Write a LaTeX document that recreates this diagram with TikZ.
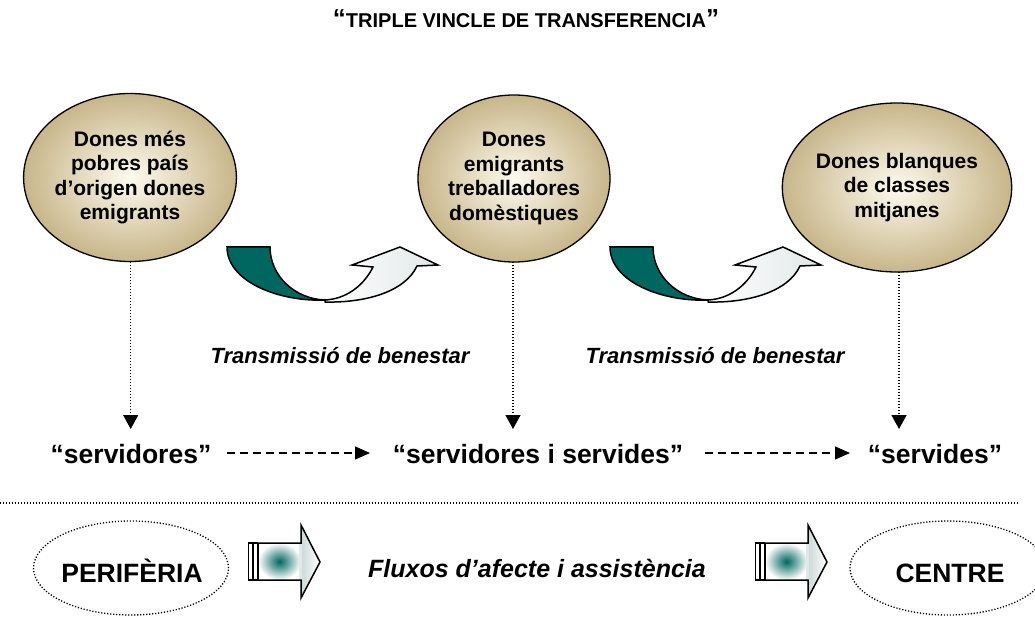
\documentclass[tikz,border=0pt]{standalone}
\usepackage{fontspec}
\setmainfont{Liberation Sans}
\usetikzlibrary{arrows.meta,shapes.geometric}
\definecolor{teal1}{RGB}{0,102,96}
\definecolor{circedge}{RGB}{200,182,138}
\definecolor{circmid}{RGB}{253,250,238}
\definecolor{grayteal}{RGB}{120,150,150}
\definecolor{lightgt}{RGB}{225,232,232}
\tikzset{
  circ/.style={ellipse, draw=black, line width=1.3pt, inner sep=0pt, shading=radial, inner color=circmid, outer color=circedge, align=center, font=\fontsize{21}{24.5}\selectfont\bfseries},
  vdot/.style={line width=1.2pt, dash pattern=on 1.2pt off 1.8pt, -{Triangle[length=14pt,width=15pt]}},
  hdash/.style={line width=1.3pt, dash pattern=on 8pt off 5pt, -{Triangle[length=15pt,width=13pt]}},
  lbl/.style={font=\fontsize{26.5}{30}\selectfont\bfseries, inner sep=0pt, anchor=base},
  itl/.style={font=\fontsize{22}{26}\selectfont\bfseries\itshape, inner sep=0pt, anchor=base},
  oval/.style={ellipse, draw=black, line width=1.3pt, dash pattern=on 1.2pt off 1.8pt, inner sep=0pt},
  outl/.style={draw=black, line width=1.5pt, line join=miter},
}
\begin{document}
\begin{tikzpicture}[x=1pt,y=-1pt]
\useasboundingbox (0,0) rectangle (1035,617);
% title
\node[font=\fontsize{20}{22}\selectfont\bfseries, inner sep=0pt, anchor=base] (title) at (526,28) {{\fontsize{26}{26}\selectfont “}TRIPLE VINCLE DE TRANSFERENCIA{\fontsize{26}{26}\selectfont ”}};
% circles
\node[circ, minimum width=192pt, minimum height=168pt] (c1) at (130,177.5) {Dones més\\pobres país\\d’origen dones\\emigrants};
\node[circ, minimum width=192pt, minimum height=167pt] (c2) at (514,178.5) {Dones\\emigrants\\treballadores\\domèstiques};
\node[circ, minimum width=190pt, minimum height=169pt] (c3) at (897,187.5) {Dones blanques\\de classes\\mitjanes};
% curved arrows
\foreach \dx in {0,383}{
\begin{scope}[xshift=\dx pt]
 \path[outl, fill=teal1] (227,247) -- (270,247) .. controls (270,276) and (295,299) .. (325,300) .. controls (280,302) and (227,282) .. (227,247) -- cycle;
 \path[outl, left color=white, middle color=grayteal, right color=lightgt] (325,302) .. controls (365,303) and (405,292) .. (417,266) -- (438,265) -- (400,247) -- (352,265) -- (373,267) .. controls (363,287) and (345,299) .. (325,300) -- cycle;
\end{scope}}
% transmission labels
\node[itl] (t1) at (340,363) {Transmissió de benestar};
\node[itl] (t2) at (715,363) {Transmissió de benestar};
% bottom labels
\node[lbl] (s1) at (131,463) {“servidores”};
\node[lbl] (s2) at (538,463) {“servidores i servides”};
\node[lbl] (s3) at (935,463) {“servides”};
\coordinate (v1) at (130.7,429);
\coordinate (v2) at (513,429);
\coordinate (v3) at (899,429);
\draw[vdot] (130.7,262) -- (v1);
\draw[vdot] (513,262) -- (v2);
\draw[vdot] (899,272) -- (v3);
\coordinate (h1a) at (227,453); \coordinate (h1b) at (370,453);
\coordinate (h2a) at (705,453); \coordinate (h2b) at (850,453);
\draw[hdash] (h1a) -- (h1b);
\draw[hdash] (h2a) -- (h2b);
% separator
\coordinate (sepa) at (0,503); \coordinate (sepb) at (1018,503);
\draw[line width=1.1pt, dash pattern=on 1.1pt off 1.9pt] (sepa) -- (sepb);
% bottom ovals
\node[oval, minimum width=195pt, minimum height=94pt] (per) at (131,568) {};
\node[oval, minimum width=196pt, minimum height=94pt] (cen) at (948,568) {};
\node[lbl] at (132,582) {PERIFÈRIA};
\node[lbl] at (950,582) {CENTRE};
\node[font=\fontsize{25}{28}\selectfont\bfseries\itshape, inner sep=0pt, anchor=base] (flux) at (537,577) {Fluxos d’afecte i assistència};
% block arrows
\foreach \dx in {-507,0}{
\begin{scope}[xshift=\dx pt]
 \fill[shading=radial, inner color=teal1, outer color=white] (765,543) rectangle (808,580);
 \fill[left color=lightgt!80!grayteal, right color=white] (808,525) -- (827,562) -- (808,598) -- cycle;
 \fill[lightgt] (806,543) rectangle (809,580);
 \path[outl] (765,543) -- (808,543) -- (808,525) -- (827,562) -- (808,598) -- (808,580) -- (765,580) -- cycle;
 \path[draw=black, line width=1.3pt, fill=white] (755.5,543) rectangle (759.5,580);
 \path[draw=black, line width=1.3pt, fill=white] (760.5,543) rectangle (764.5,580);
\end{scope}}
\end{tikzpicture}
\end{document}
